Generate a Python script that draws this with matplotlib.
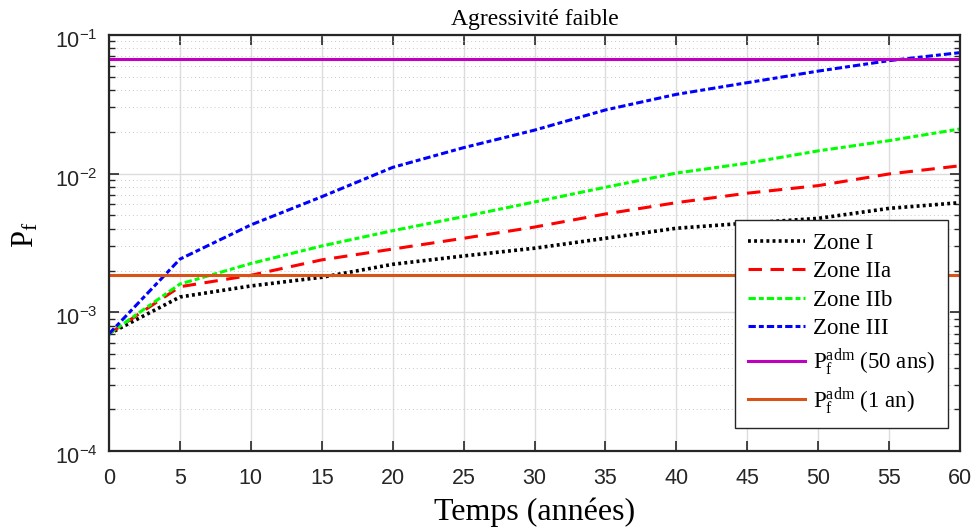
import matplotlib
matplotlib.use("Agg")
import matplotlib.pyplot as plt
import matplotlib.transforms as mtransforms
import numpy as np
from matplotlib.ticker import LogLocator, FixedLocator, FixedFormatter, NullFormatter

plt.rcParams['font.family'] = 'Liberation Serif'
plt.rcParams['mathtext.fontset'] = 'custom'
plt.rcParams['mathtext.rm'] = 'Liberation Serif'
plt.rcParams['mathtext.it'] = 'Liberation Serif:italic'
plt.rcParams['mathtext.sf'] = 'Liberation Sans'

# Temps (années)
years = [0, 5, 10, 15, 20, 25, 30, 35, 40, 45, 50, 55, 60]

zone_1 = [7.0e-4, 1.29e-3, 1.55e-3, 1.79e-3, 2.22e-3, 2.55e-3, 2.90e-3,
          3.42e-3, 4.04e-3, 4.40e-3, 4.76e-3, 5.62e-3, 6.18e-3]
zone_2a = [7.0e-4, 1.53e-3, 1.85e-3, 2.39e-3, 2.86e-3, 3.42e-3, 4.12e-3,
           5.12e-3, 6.18e-3, 7.23e-3, 8.2e-3, 9.95e-3, 1.14e-2]
zone_2b = [7.0e-4, 1.60e-3, 2.25e-3, 3.01e-3, 3.88e-3, 4.90e-3, 6.25e-3,
           7.98e-3, 1.01e-2, 1.19e-2, 1.46e-2, 1.73e-2, 2.10e-2]
zone_3 = [7.0e-4, 2.42e-3, 4.27e-3, 6.82e-3, 1.11e-2, 1.54e-2, 2.06e-2,
          2.88e-2, 3.73e-2, 4.53e-2, 5.49e-2, 6.53e-2, 7.46e-2]

pf_adm_50 = 0.0668
pf_adm_1 = 0.00187

x_ticks = [0, 5, 10, 15, 20, 25, 30, 35, 40, 45, 50, 55, 60]
y_ticks = [1e-4, 1e-3, 1e-2, 1e-1]
y_ticklabels = [r'$\mathsf{10^{-4}}$', r'$\mathsf{10^{-3}}$', r'$\mathsf{10^{-2}}$', r'$\mathsf{10^{-1}}$']

fig = plt.figure(figsize=(9.76, 5.30), dpi=100)
ax = fig.add_axes([0.1117, 0.149, 0.8719, 0.785])

lw = 2.2
ax.plot(years, zone_1, color='black', lw=2.6, linestyle=(0, (0.8, 0.9)), label='Zone I')
ax.plot(years, zone_2a, color='#FF0000', lw=lw, linestyle=(0, (4.4, 2.8)), label='Zone IIa')
ax.plot(years, zone_2b, color='#00FF00', lw=lw, linestyle=(0, (2.4, 1.0, 1.6, 1.0)), label='Zone IIb')
ax.plot(years, zone_3, color='#0000FF', lw=lw, linestyle=(0, (2.4, 1.0, 1.6, 1.0)), label='Zone III')
ax.plot([years[0], years[-1]], [pf_adm_50, pf_adm_50], color='#BF00BF', lw=lw,
        label=r'$\mathrm{P}_\mathrm{f}^\mathrm{adm}$ (50 ans)')
ax.plot([years[0], years[-1]], [pf_adm_1, pf_adm_1], color='#D95319', lw=lw,
        label=r'$\mathrm{P}_\mathrm{f}^\mathrm{adm}$ (1 an)')

ax.set_yscale('log')
ax.set_xlim(0, 60)
ax.set_ylim(1e-4, 1e-1)
ax.xaxis.set_major_locator(FixedLocator(x_ticks))
ax.set_xticklabels([str(v) for v in x_ticks], fontfamily='Liberation Sans')
ax.yaxis.set_major_locator(FixedLocator(y_ticks))
ax.yaxis.set_major_formatter(FixedFormatter(y_ticklabels))
ax.yaxis.set_minor_locator(LogLocator(base=10, subs=np.arange(2, 10)))
ax.yaxis.set_minor_formatter(NullFormatter())

ax.tick_params(which='both', direction='in', top=True, right=True, labelsize=15.5, colors='#262626')
ax.tick_params(which='major', length=7, width=1.2)
ax.tick_params(which='minor', length=4, width=1.0)
ax.tick_params(axis='x', which='major', pad=12)
ax.tick_params(axis='y', which='major', pad=8)
for side in ax.spines.values():
    side.set_linewidth(1.6)
    side.set_color('#262626')

# nudge the power labels down a little, like the original
shift = mtransforms.ScaledTranslation(0, -3 / 72, fig.dpi_scale_trans)
for lab in ax.get_yticklabels():
    lab.set_transform(lab.get_transform() + shift)

ax.grid(True, which='major', color='#dcdcdc', linewidth=1.0)
ax.grid(True, which='minor', axis='y', color='#c8c8c8', linestyle=(0, (1, 3)), linewidth=0.7)
ax.set_axisbelow(True)

ax.set_title('Agressivité faible', fontsize=17, pad=7)
ax.set_xlabel('Temps (années)', fontsize=23, labelpad=6)
ax.set_ylabel(r'$\mathrm{P}_\mathrm{f}$', fontsize=22)
ax.yaxis.set_label_coords(-0.08, 0.52)

leg = ax.legend(loc='lower right', bbox_to_anchor=(0.986, 0.055), borderaxespad=0,
                fontsize=16.5, fancybox=False, framealpha=1, edgecolor='#262626',
                handlelength=2.5, borderpad=0.55, labelspacing=0.32, handletextpad=0.35)
leg.get_frame().set_linewidth(1.0)

fig.savefig('out.png', dpi=100)
